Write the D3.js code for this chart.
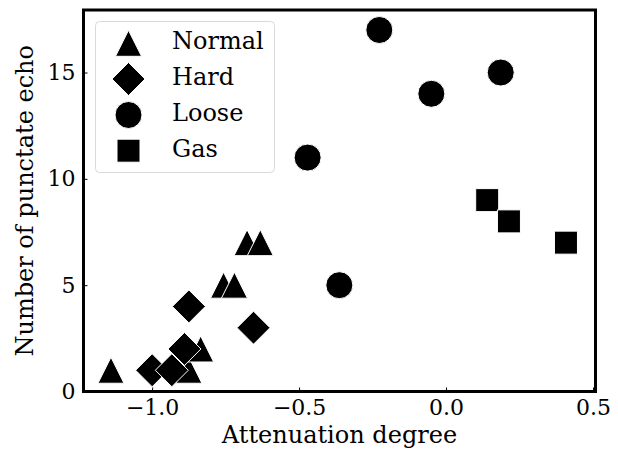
<!DOCTYPE html>
<html>
<head>
<meta charset="utf-8">
<script src="https://cdn.jsdelivr.net/npm/d3@7"></script>
<style>
  html, body { margin: 0; padding: 0; background: #fff; }
  svg { display: block; font-family: "DejaVu Serif", serif; }
</style>
</head>
<body>
<svg id="chart" width="618" height="450"></svg>
<script>
// ---- data ----
const seriesNames = ["Normal", "Hard", "Loose", "Gas"];
const normalX = [-1.14, -0.875, -0.835, -0.757, -0.72, -0.677, -0.632];
const normalY = [1, 1, 2, 5, 5, 7, 7];
const hardX = [-1.0, -0.933, -0.89, -0.875, -0.655];
const hardY = [1, 1, 2, 4, 3];
const looseX = [-0.471, -0.363, -0.227, -0.05, 0.186];
const looseY = [11, 5, 17, 14, 15];
const gasX = [0.14, 0.214, 0.408];
const gasY = [9, 8, 7];
const xTicks = [-1.0, -0.5, 0.0, 0.5];
const yTicks = [0, 5, 10, 15];
const xLabel = "Attenuation degree";
const yLabel = "Number of punctate echo";

// ---- layout ----
const svg = d3.select("#chart");
const L = 83.5, R = 595.5, T = 10, B = 391.5;
const x = d3.scaleLinear().domain([-1.2335, 0.5085]).range([L, R]);
const y = d3.scaleLinear().domain([0, 17.94]).range([B, T]);

// marker shapes (matplotlib-like)
const shapes = {
  triangle: s => `M0,${-s/2}L${-s/2},${s/2}L${s/2},${s/2}Z`,
  diamond: s => `M0,${-s}L${s},0L0,${s}L${-s},0Z`,
  circle: s => `M${s},0A${s},${s} 0 1,1 ${-s},0A${s},${s} 0 1,1 ${s},0Z`,
  square: s => `M${-s/2},${-s/2}H${s/2}V${s/2}H${-s/2}Z`
};
const markerDefs = [
  {name: seriesNames[0], xs: normalX, ys: normalY, path: shapes.triangle(26)},
  {name: seriesNames[1], xs: hardX, ys: hardY, path: shapes.diamond(16.5)},
  {name: seriesNames[2], xs: looseX, ys: looseY, path: shapes.circle(13.5)},
  {name: seriesNames[3], xs: gasX, ys: gasY, path: shapes.square(23)}
];

// ---- points ----
const plot = svg.append("g");
markerDefs.forEach(m => {
  const pts = m.xs.map((v, i) => [v, m.ys[i]]);
  plot.append("g").selectAll("path").data(pts).join("path")
    .attr("d", m.path)
    .attr("transform", d => `translate(${x(d[0])},${y(d[1])})`)
    .attr("fill", "#000")
    .attr("stroke", "#fff")
    .attr("stroke-width", 1);
});

// ---- axes ----
const fmt = d => (d < 0 ? "\u2212" : "") + Math.abs(d).toFixed(1);
const xAxis = svg.append("g").attr("transform", `translate(0,${B})`)
  .call(d3.axisBottom(x).tickValues(xTicks).tickFormat(fmt).tickSizeInner(-4).tickSizeOuter(0).tickPadding(8));
const yAxis = svg.append("g").attr("transform", `translate(${L},0)`)
  .call(d3.axisLeft(y).tickValues(yTicks).tickFormat(d3.format("d")).tickSizeInner(-4).tickSizeOuter(0).tickPadding(8));
[xAxis, yAxis].forEach(a => {
  a.select(".domain").remove();
  a.selectAll(".tick line").attr("stroke", "#000").attr("stroke-width", 1);
  a.selectAll(".tick text").attr("font-family", "DejaVu Serif").attr("font-size", 22).attr("fill", "#000");
});
xAxis.selectAll(".tick text").attr("dy", "0.71em");

// frame
svg.append("rect").attr("x", L).attr("y", T).attr("width", R - L).attr("height", B - T)
  .attr("fill", "none").attr("stroke", "#000").attr("stroke-width", 3);

// labels
svg.append("text").attr("x", (L + R) / 2).attr("y", 443).attr("text-anchor", "middle")
  .attr("font-size", 24).attr("fill", "#000").text(xLabel);
svg.append("text").attr("transform", `translate(33,${(T + B) / 2}) rotate(-90)`)
  .attr("text-anchor", "middle").attr("font-size", 24).attr("fill", "#000").text(yLabel);

// ---- legend ----
const leg = svg.append("g");
leg.append("rect").attr("x", 95.5).attr("y", 21.5).attr("width", 179).attr("height", 151)
  .attr("rx", 4).attr("fill", "#fff").attr("fill-opacity", 0.8)
  .attr("stroke", "#d9d9d9").attr("stroke-width", 1);
const legY = [43.3, 79, 115, 150.7];
markerDefs.forEach((m, i) => {
  leg.append("path").attr("d", m.path).attr("transform", `translate(128.5,${legY[i]})`)
    .attr("fill", "#000").attr("stroke", "#fff").attr("stroke-width", 1);
  leg.append("text").attr("x", 172).attr("y", legY[i] + 6).attr("font-size", 24)
    .attr("fill", "#000").text(m.name);
});
</script>
</body>
</html>
